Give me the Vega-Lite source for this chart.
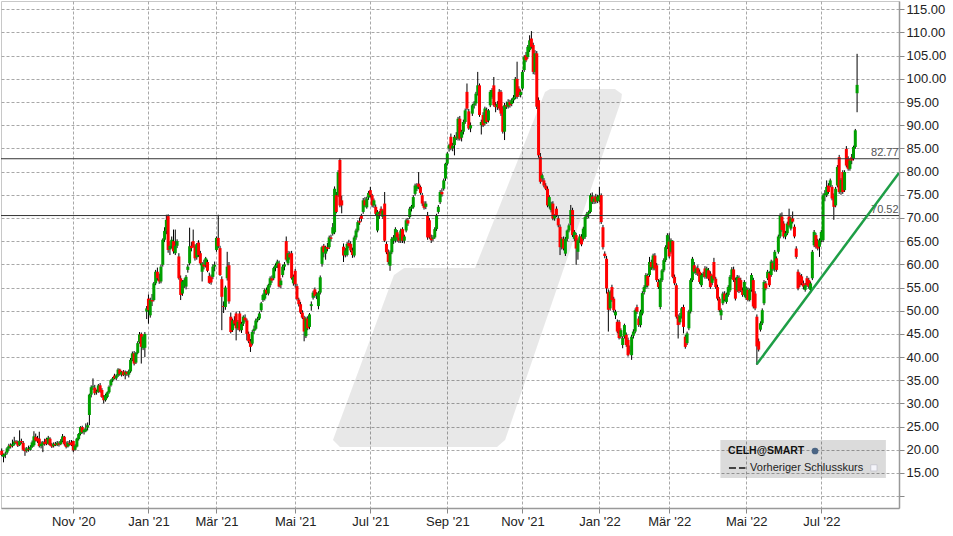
{
"$schema":"https://vega.github.io/schema/vega-lite/v6.json",
"width":898,"height":507,
"autosize":{"type":"none"},
"padding":{"left":1,"top":1,"right":54,"bottom":28},
"background":"white",
"config":{"font":"Liberation Sans","view":{"stroke":"#c8c8c8","strokeWidth":1},
"axis":{"labelFont":"Liberation Sans","labelFontSize":13,"labelColor":"#222","gridColor":"#a8a8a8","gridDash":[3,2],"gridWidth":1,"tickColor":"#888","domainColor":"#999","domainWidth":1.5,"title":null,"labelOverlap":false,"labelFlush":false}},
"resolve":{"axis":{"x":"independent","y":"independent"}},
"datasets":{
"ohlc":[
{"i":-40,"o":19.8,"h":20.3,"l":18.6,"c":18.9},{"i":-39,"o":18.5,"h":19.2,"l":17.3,"c":19.0},{"i":-38,"o":18.9,"h":19.6,"l":18.2,"c":19.2},{"i":-37,"o":19.4,"h":20.6,"l":19.0,"c":20.3},{"i":-36,"o":20.3,"h":21.3,"l":19.8,"c":20.9},{"i":-35,"o":21.0,"h":21.4,"l":20.3,"c":20.7},{"i":-34,"o":20.8,"h":22.2,"l":20.5,"c":21.2},{"i":-33,"o":21.2,"h":22.8,"l":20.9,"c":21.8},{"i":-32,"o":21.8,"h":22.1,"l":21.2,"c":21.5},{"i":-31,"o":21.6,"h":22.0,"l":20.6,"c":20.9},
{"i":-30,"o":21.0,"h":24.2,"l":20.8,"c":21.9},{"i":-29,"o":21.9,"h":22.4,"l":21.3,"c":21.6},{"i":-28,"o":21.5,"h":21.9,"l":19.8,"c":20.0},{"i":-27,"o":20.0,"h":20.5,"l":18.7,"c":19.7},{"i":-26,"o":19.8,"h":20.6,"l":19.4,"c":20.3},{"i":-25,"o":20.2,"h":20.9,"l":19.6,"c":20.0},{"i":-24,"o":20.0,"h":21.0,"l":19.8,"c":20.6},{"i":-23,"o":20.6,"h":22.0,"l":20.4,"c":21.6},{"i":-22,"o":21.0,"h":24.0,"l":20.7,"c":22.9},{"i":-21,"o":22.8,"h":23.5,"l":21.8,"c":22.0},
{"i":-20,"o":22.5,"h":23.0,"l":21.5,"c":21.8},{"i":-19,"o":22.4,"h":23.9,"l":20.5,"c":20.8},{"i":-18,"o":20.8,"h":21.8,"l":20.3,"c":21.3},{"i":-17,"o":21.1,"h":21.9,"l":19.5,"c":21.6},{"i":-16,"o":21.7,"h":22.4,"l":20.9,"c":21.2},{"i":-15,"o":22.3,"h":22.6,"l":21.0,"c":21.3},{"i":-14,"o":21.3,"h":23.0,"l":21.1,"c":22.6},{"i":-13,"o":22.4,"h":22.7,"l":20.8,"c":21.0},{"i":-12,"o":21.1,"h":21.5,"l":20.4,"c":20.7},{"i":-11,"o":20.8,"h":21.6,"l":20.5,"c":21.3},
{"i":-10,"o":21.3,"h":21.7,"l":20.8,"c":21.0},{"i":-9,"o":21.0,"h":21.9,"l":20.8,"c":21.5},{"i":-8,"o":21.4,"h":21.8,"l":20.7,"c":21.1},{"i":-7,"o":21.2,"h":22.3,"l":21.0,"c":21.9},{"i":-6,"o":21.9,"h":23.4,"l":21.6,"c":22.9},{"i":-5,"o":22.8,"h":23.0,"l":20.9,"c":21.2},{"i":-4,"o":21.2,"h":21.8,"l":20.3,"c":20.6},{"i":-3,"o":20.7,"h":21.9,"l":20.5,"c":21.5},{"i":-2,"o":21.5,"h":22.1,"l":20.9,"c":21.2},{"i":-1,"o":21.6,"h":22.1,"l":20.8,"c":21.0},
{"i":0,"o":21.9,"h":22.0,"l":19.5,"c":19.9},{"i":1,"o":20.0,"h":21.2,"l":19.8,"c":20.9},{"i":2,"o":20.7,"h":22.6,"l":20.5,"c":22.4},{"i":3,"o":22.3,"h":23.6,"l":22.0,"c":23.4},{"i":4,"o":23.4,"h":25.1,"l":23.1,"c":24.9},{"i":5,"o":24.9,"h":25.2,"l":23.5,"c":23.8},{"i":6,"o":23.8,"h":24.6,"l":23.3,"c":24.3},{"i":7,"o":24.0,"h":25.7,"l":23.8,"c":24.6},{"i":8,"o":24.8,"h":25.9,"l":24.2,"c":25.3},{"i":9,"o":27.5,"h":32.1,"l":25.3,"c":31.9},
{"i":10,"o":31.9,"h":33.9,"l":31.3,"c":33.5},{"i":11,"o":33.5,"h":35.4,"l":32.9,"c":33.7},{"i":12,"o":33.4,"h":34.0,"l":31.8,"c":32.2},{"i":13,"o":32.4,"h":33.0,"l":31.9,"c":32.6},{"i":14,"o":32.5,"h":34.2,"l":32.3,"c":33.9},{"i":15,"o":33.9,"h":34.4,"l":32.3,"c":32.5},{"i":16,"o":32.9,"h":33.3,"l":31.2,"c":31.4},{"i":17,"o":31.4,"h":31.8,"l":30.0,"c":30.7},{"i":18,"o":30.7,"h":32.1,"l":30.4,"c":31.8},{"i":19,"o":31.4,"h":32.6,"l":31.1,"c":32.4},
{"i":20,"o":32.4,"h":33.9,"l":32.1,"c":33.6},{"i":21,"o":33.9,"h":35.2,"l":33.6,"c":35.0},{"i":22,"o":35.0,"h":35.7,"l":34.6,"c":35.4},{"i":23,"o":36.0,"h":36.4,"l":35.2,"c":35.4},{"i":24,"o":35.4,"h":36.3,"l":35.0,"c":36.0},{"i":25,"o":36.0,"h":37.6,"l":35.7,"c":37.3},{"i":26,"o":37.3,"h":37.5,"l":36.0,"c":36.3},{"i":27,"o":36.2,"h":37.0,"l":35.8,"c":36.8},{"i":28,"o":36.9,"h":37.2,"l":35.9,"c":36.1},{"i":29,"o":36.2,"h":37.1,"l":35.2,"c":36.7},
{"i":30,"o":36.8,"h":37.0,"l":35.9,"c":36.3},{"i":31,"o":36.2,"h":37.3,"l":35.6,"c":36.9},{"i":32,"o":36.9,"h":39.8,"l":36.6,"c":39.4},{"i":33,"o":39.4,"h":41.2,"l":39.1,"c":40.8},{"i":34,"o":40.8,"h":41.3,"l":38.2,"c":38.6},{"i":35,"o":38.8,"h":41.1,"l":38.5,"c":40.9},{"i":36,"o":40.9,"h":43.4,"l":40.6,"c":43.0},{"i":37,"o":43.2,"h":45.4,"l":42.9,"c":44.9},{"i":38,"o":45.0,"h":45.3,"l":38.6,"c":42.2},{"i":39,"o":41.9,"h":44.8,"l":41.5,"c":44.4},
{"i":40,"o":42.0,"h":45.4,"l":40.0,"c":45.0},{"i":41,"o":49.8,"h":51.0,"l":48.2,"c":50.5},{"i":42,"o":52.6,"h":53.5,"l":47.2,"c":50.1},{"i":43,"o":49.0,"h":52.8,"l":48.5,"c":52.3},{"i":44,"o":52.3,"h":53.6,"l":51.0,"c":52.0},{"i":45,"o":52.3,"h":56.2,"l":52.0,"c":55.9},{"i":46,"o":55.9,"h":58.8,"l":55.5,"c":58.4},{"i":47,"o":58.4,"h":59.3,"l":56.5,"c":57.0},{"i":48,"o":57.0,"h":58.0,"l":55.8,"c":56.3},{"i":49,"o":56.3,"h":60.0,"l":55.9,"c":59.5},
{"i":50,"o":59.9,"h":65.6,"l":59.5,"c":65.3},{"i":51,"o":65.3,"h":68.0,"l":64.8,"c":67.2},{"i":52,"o":67.2,"h":70.7,"l":66.5,"c":69.6},{"i":53,"o":70.4,"h":70.8,"l":62.5,"c":63.1},{"i":54,"o":63.2,"h":65.0,"l":62.0,"c":64.0},{"i":55,"o":63.9,"h":66.0,"l":63.4,"c":65.3},{"i":56,"o":65.0,"h":67.5,"l":62.3,"c":62.8},{"i":57,"o":62.4,"h":67.5,"l":62.0,"c":64.0},{"i":58,"o":64.0,"h":65.4,"l":63.5,"c":65.0},{"i":59,"o":61.7,"h":62.4,"l":56.7,"c":57.0},
{"i":60,"o":57.0,"h":57.6,"l":52.3,"c":53.4},{"i":61,"o":53.7,"h":56.6,"l":53.2,"c":56.3},{"i":62,"o":55.6,"h":57.0,"l":54.9,"c":56.6},{"i":63,"o":55.2,"h":57.7,"l":54.6,"c":57.3},{"i":64,"o":58.8,"h":60.0,"l":58.2,"c":59.5},{"i":65,"o":60.2,"h":67.9,"l":59.8,"c":63.9},{"i":66,"o":64.0,"h":64.8,"l":62.8,"c":63.5},{"i":67,"o":65.0,"h":67.5,"l":63.6,"c":63.9},{"i":68,"o":63.9,"h":64.3,"l":60.8,"c":61.3},{"i":69,"o":61.5,"h":64.6,"l":61.0,"c":64.3},
{"i":70,"o":64.7,"h":65.2,"l":61.6,"c":62.0},{"i":71,"o":62.4,"h":62.9,"l":59.8,"c":60.2},{"i":72,"o":58.4,"h":60.5,"l":56.3,"c":60.2},{"i":73,"o":60.0,"h":61.0,"l":58.9,"c":59.5},{"i":74,"o":59.9,"h":61.6,"l":59.3,"c":61.3},{"i":75,"o":60.5,"h":61.0,"l":58.3,"c":58.6},{"i":76,"o":57.5,"h":58.2,"l":55.8,"c":56.0},{"i":77,"o":57.2,"h":57.8,"l":55.6,"c":56.1},{"i":78,"o":57.3,"h":60.0,"l":56.8,"c":59.5},{"i":79,"o":59.5,"h":60.6,"l":58.5,"c":59.9},
{"i":80,"o":63.1,"h":66.0,"l":62.7,"c":65.7},{"i":81,"o":65.7,"h":70.7,"l":63.5,"c":63.9},{"i":82,"o":63.5,"h":64.0,"l":57.5,"c":57.7},{"i":83,"o":56.8,"h":57.4,"l":45.8,"c":53.0},{"i":84,"o":51.0,"h":52.0,"l":49.5,"c":50.8},{"i":85,"o":50.8,"h":55.4,"l":50.2,"c":55.0},{"i":86,"o":57.0,"h":62.7,"l":56.5,"c":59.5},{"i":87,"o":59.8,"h":60.5,"l":51.5,"c":52.0},{"i":88,"o":48.7,"h":49.6,"l":45.1,"c":45.4},{"i":89,"o":45.8,"h":48.3,"l":45.4,"c":47.9},
{"i":90,"o":47.9,"h":48.8,"l":46.8,"c":47.2},{"i":91,"o":49.4,"h":49.8,"l":43.6,"c":46.2},{"i":92,"o":46.2,"h":48.0,"l":45.8,"c":47.6},{"i":93,"o":49.4,"h":49.9,"l":45.5,"c":45.8},{"i":94,"o":45.8,"h":47.6,"l":45.2,"c":47.2},{"i":95,"o":47.2,"h":49.0,"l":46.7,"c":48.7},{"i":96,"o":48.5,"h":49.2,"l":47.6,"c":47.9},{"i":97,"o":47.9,"h":48.3,"l":43.6,"c":45.0},{"i":98,"o":45.0,"h":45.5,"l":43.0,"c":43.4},{"i":99,"o":43.4,"h":43.9,"l":41.1,"c":42.2},
{"i":100,"o":42.9,"h":45.8,"l":42.5,"c":45.4},{"i":101,"o":45.6,"h":46.8,"l":45.0,"c":46.1},{"i":102,"o":46.1,"h":48.3,"l":45.8,"c":47.9},{"i":103,"o":47.9,"h":48.7,"l":47.5,"c":48.3},{"i":104,"o":48.3,"h":49.8,"l":48.0,"c":49.4},{"i":105,"o":50.1,"h":51.9,"l":49.7,"c":51.6},{"i":106,"o":52.3,"h":53.7,"l":51.9,"c":53.4},{"i":107,"o":52.6,"h":54.8,"l":52.2,"c":54.5},{"i":108,"o":54.5,"h":55.0,"l":53.4,"c":53.7},{"i":109,"o":53.7,"h":55.8,"l":53.3,"c":55.5},
{"i":110,"o":55.5,"h":57.4,"l":55.0,"c":57.0},{"i":111,"o":57.0,"h":57.6,"l":56.0,"c":56.5},{"i":112,"o":57.0,"h":59.5,"l":56.6,"c":59.2},{"i":113,"o":59.2,"h":60.2,"l":58.5,"c":59.8},{"i":114,"o":59.8,"h":61.0,"l":59.2,"c":60.6},{"i":115,"o":60.2,"h":60.8,"l":55.0,"c":55.2},{"i":116,"o":55.5,"h":57.0,"l":54.8,"c":56.5},{"i":117,"o":57.7,"h":59.9,"l":57.2,"c":59.5},{"i":118,"o":59.5,"h":60.5,"l":58.7,"c":60.0},{"i":119,"o":65.0,"h":66.0,"l":60.6,"c":61.0},
{"i":120,"o":60.2,"h":62.9,"l":59.8,"c":62.4},{"i":121,"o":62.2,"h":62.8,"l":61.0,"c":61.5},{"i":122,"o":62.4,"h":62.9,"l":56.7,"c":57.0},{"i":123,"o":55.9,"h":57.8,"l":55.4,"c":57.3},{"i":124,"o":58.6,"h":59.0,"l":55.0,"c":55.7},{"i":125,"o":55.3,"h":55.8,"l":52.2,"c":52.5},{"i":126,"o":52.4,"h":52.8,"l":50.9,"c":51.4},{"i":127,"o":51.4,"h":51.9,"l":49.3,"c":49.6},{"i":128,"o":49.6,"h":50.1,"l":48.2,"c":48.5},{"i":129,"o":48.5,"h":48.9,"l":43.4,"c":45.5},
{"i":130,"o":44.5,"h":48.7,"l":44.1,"c":48.3},{"i":131,"o":48.3,"h":48.8,"l":45.8,"c":46.2},{"i":132,"o":46.5,"h":49.5,"l":46.0,"c":49.2},{"i":133,"o":51.0,"h":52.0,"l":50.0,"c":51.4},{"i":134,"o":52.8,"h":54.3,"l":52.4,"c":53.9},{"i":135,"o":54.6,"h":55.0,"l":52.8,"c":53.2},{"i":136,"o":53.2,"h":54.0,"l":52.5,"c":53.5},{"i":137,"o":51.0,"h":54.2,"l":50.3,"c":53.9},{"i":138,"o":53.9,"h":57.6,"l":53.5,"c":57.2},{"i":139,"o":60.1,"h":64.0,"l":59.5,"c":63.7},
{"i":140,"o":64.0,"h":64.4,"l":61.5,"c":62.6},{"i":141,"o":62.3,"h":64.0,"l":61.0,"c":63.7},{"i":142,"o":63.7,"h":64.6,"l":62.8,"c":63.3},{"i":143,"o":63.7,"h":66.2,"l":63.3,"c":65.8},{"i":144,"o":65.8,"h":66.4,"l":64.9,"c":65.5},{"i":145,"o":66.6,"h":68.9,"l":66.2,"c":68.0},{"i":146,"o":66.9,"h":76.8,"l":66.5,"c":76.3},{"i":147,"o":74.9,"h":75.6,"l":71.0,"c":71.3},{"i":148,"o":74.9,"h":80.3,"l":74.5,"c":79.9},{"i":149,"o":82.5,"h":82.9,"l":72.3,"c":72.7},
{"i":150,"o":73.8,"h":74.8,"l":71.0,"c":72.7},{"i":151,"o":63.8,"h":64.5,"l":60.5,"c":61.9},{"i":152,"o":62.0,"h":63.5,"l":61.5,"c":63.0},{"i":153,"o":62.0,"h":64.8,"l":61.7,"c":64.4},{"i":154,"o":64.6,"h":65.3,"l":63.5,"c":63.9},{"i":155,"o":64.4,"h":65.0,"l":62.6,"c":63.0},{"i":156,"o":63.0,"h":63.6,"l":61.4,"c":62.0},{"i":157,"o":61.9,"h":66.2,"l":61.5,"c":65.8},{"i":158,"o":65.8,"h":67.7,"l":65.3,"c":67.3},{"i":159,"o":67.3,"h":69.5,"l":66.9,"c":69.1},
{"i":160,"o":69.3,"h":70.1,"l":68.5,"c":69.0},{"i":161,"o":70.5,"h":70.9,"l":69.2,"c":69.8},{"i":162,"o":71.3,"h":74.3,"l":70.9,"c":73.8},{"i":163,"o":73.8,"h":74.5,"l":72.3,"c":72.7},{"i":164,"o":72.3,"h":74.6,"l":72.0,"c":74.2},{"i":165,"o":74.4,"h":75.8,"l":73.9,"c":75.4},{"i":166,"o":76.0,"h":76.7,"l":74.4,"c":74.9},{"i":167,"o":74.9,"h":75.2,"l":72.3,"c":72.7},{"i":168,"o":72.7,"h":74.2,"l":72.2,"c":73.8},{"i":169,"o":72.4,"h":72.9,"l":70.5,"c":70.9},
{"i":170,"o":67.3,"h":71.7,"l":66.9,"c":71.3},{"i":171,"o":70.8,"h":71.5,"l":69.8,"c":70.4},{"i":172,"o":72.0,"h":72.5,"l":70.5,"c":70.9},{"i":173,"o":70.2,"h":71.9,"l":69.8,"c":71.6},{"i":174,"o":73.1,"h":75.6,"l":64.8,"c":65.1},{"i":175,"o":64.4,"h":64.9,"l":62.2,"c":62.6},{"i":176,"o":62.6,"h":63.2,"l":60.0,"c":60.5},{"i":177,"o":59.7,"h":63.0,"l":58.6,"c":62.6},{"i":178,"o":62.6,"h":65.9,"l":62.2,"c":65.5},{"i":179,"o":65.1,"h":66.3,"l":64.4,"c":65.8},
{"i":180,"o":65.1,"h":68.0,"l":64.7,"c":67.6},{"i":181,"o":66.9,"h":67.4,"l":64.9,"c":65.8},{"i":182,"o":65.8,"h":66.5,"l":64.6,"c":65.1},{"i":183,"o":65.1,"h":67.7,"l":64.6,"c":67.3},{"i":184,"o":67.6,"h":68.0,"l":64.6,"c":65.1},{"i":185,"o":65.1,"h":66.4,"l":64.5,"c":66.0},{"i":186,"o":67.3,"h":69.9,"l":66.9,"c":69.5},{"i":187,"o":69.5,"h":70.0,"l":68.3,"c":68.8},{"i":188,"o":70.2,"h":72.4,"l":69.8,"c":72.0},{"i":189,"o":72.0,"h":72.8,"l":71.4,"c":72.5},
{"i":190,"o":72.3,"h":74.9,"l":72.0,"c":74.5},{"i":191,"o":75.2,"h":77.4,"l":74.8,"c":77.0},{"i":192,"o":76.3,"h":77.5,"l":75.8,"c":77.0},{"i":193,"o":77.4,"h":79.9,"l":76.2,"c":76.7},{"i":194,"o":76.7,"h":77.0,"l":75.0,"c":75.4},{"i":195,"o":74.9,"h":75.4,"l":72.6,"c":73.1},{"i":196,"o":73.1,"h":73.6,"l":71.8,"c":72.2},{"i":197,"o":72.4,"h":73.6,"l":71.9,"c":73.1},{"i":198,"o":70.5,"h":71.3,"l":65.3,"c":65.8},{"i":199,"o":69.5,"h":70.0,"l":65.5,"c":65.8},
{"i":200,"o":65.8,"h":66.4,"l":64.6,"c":65.2},{"i":201,"o":65.5,"h":66.3,"l":65.0,"c":65.8},{"i":202,"o":65.8,"h":68.0,"l":65.5,"c":67.6},{"i":203,"o":67.6,"h":70.9,"l":67.2,"c":70.5},{"i":204,"o":71.3,"h":72.8,"l":70.9,"c":72.4},{"i":205,"o":73.4,"h":76.0,"l":73.0,"c":75.6},{"i":206,"o":75.6,"h":76.4,"l":74.6,"c":75.1},{"i":207,"o":76.3,"h":78.5,"l":75.9,"c":78.1},{"i":208,"o":78.5,"h":81.9,"l":78.0,"c":81.7},{"i":209,"o":81.7,"h":84.2,"l":81.3,"c":83.9},
{"i":210,"o":85.0,"h":86.0,"l":84.3,"c":85.7},{"i":211,"o":87.5,"h":88.2,"l":84.6,"c":85.0},{"i":212,"o":85.0,"h":86.2,"l":84.4,"c":85.6},{"i":213,"o":85.7,"h":87.9,"l":83.5,"c":87.5},{"i":214,"o":87.5,"h":88.5,"l":86.8,"c":87.3},{"i":215,"o":87.1,"h":91.8,"l":86.7,"c":91.4},{"i":216,"o":91.4,"h":92.0,"l":86.7,"c":87.1},{"i":217,"o":87.3,"h":89.0,"l":86.5,"c":88.6},{"i":218,"o":88.6,"h":91.2,"l":88.0,"c":90.7},{"i":219,"o":90.7,"h":93.6,"l":90.3,"c":93.2},
{"i":220,"o":97.2,"h":99.0,"l":93.2,"c":93.6},{"i":221,"o":93.0,"h":93.5,"l":89.0,"c":89.3},{"i":222,"o":89.3,"h":90.6,"l":88.5,"c":90.0},{"i":223,"o":92.5,"h":94.6,"l":92.0,"c":94.3},{"i":224,"o":94.3,"h":95.2,"l":93.6,"c":94.7},{"i":225,"o":94.7,"h":97.2,"l":94.2,"c":96.8},{"i":226,"o":96.8,"h":101.5,"l":96.4,"c":98.6},{"i":227,"o":98.6,"h":99.0,"l":91.8,"c":92.2},{"i":228,"o":90.0,"h":91.2,"l":88.0,"c":90.7},{"i":229,"o":92.2,"h":92.8,"l":89.6,"c":90.0},
{"i":230,"o":90.4,"h":94.0,"l":89.9,"c":93.6},{"i":231,"o":93.2,"h":93.8,"l":90.3,"c":90.7},{"i":232,"o":91.0,"h":93.5,"l":90.6,"c":93.2},{"i":233,"o":94.3,"h":97.6,"l":93.9,"c":97.2},{"i":234,"o":96.1,"h":98.0,"l":95.7,"c":97.6},{"i":235,"o":98.6,"h":100.4,"l":94.0,"c":94.3},{"i":236,"o":94.3,"h":95.0,"l":92.8,"c":93.9},{"i":237,"o":93.9,"h":95.2,"l":93.3,"c":94.6},{"i":238,"o":97.2,"h":97.8,"l":93.2,"c":93.6},{"i":239,"o":97.2,"h":97.6,"l":92.0,"c":92.5},
{"i":240,"o":93.6,"h":94.1,"l":88.2,"c":88.6},{"i":241,"o":88.6,"h":94.8,"l":86.8,"c":94.3},{"i":242,"o":94.3,"h":95.1,"l":93.5,"c":94.0},{"i":243,"o":94.0,"h":95.6,"l":93.6,"c":95.0},{"i":244,"o":95.0,"h":95.5,"l":93.8,"c":94.3},{"i":245,"o":94.6,"h":95.8,"l":94.1,"c":95.4},{"i":246,"o":95.4,"h":96.5,"l":94.8,"c":96.0},{"i":247,"o":96.0,"h":100.4,"l":95.6,"c":100.0},{"i":248,"o":100.0,"h":103.7,"l":95.7,"c":96.1},{"i":249,"o":97.9,"h":98.4,"l":96.1,"c":96.5},
{"i":250,"o":96.5,"h":97.7,"l":96.0,"c":97.2},{"i":251,"o":97.9,"h":101.9,"l":97.5,"c":101.5},{"i":252,"o":101.9,"h":105.1,"l":101.5,"c":104.7},{"i":253,"o":105.1,"h":105.8,"l":103.6,"c":104.0},{"i":254,"o":104.7,"h":107.3,"l":104.3,"c":106.9},{"i":255,"o":106.2,"h":109.4,"l":105.8,"c":108.3},{"i":256,"o":108.7,"h":110.3,"l":106.5,"c":106.9},{"i":257,"o":107.3,"h":107.8,"l":101.0,"c":101.5},{"i":258,"o":101.5,"h":106.2,"l":100.9,"c":105.5},{"i":259,"o":105.5,"h":106.0,"l":93.5,"c":94.0},
{"i":260,"o":95.4,"h":96.0,"l":83.0,"c":83.5},{"i":261,"o":83.2,"h":84.0,"l":77.4,"c":77.8},{"i":262,"o":78.5,"h":79.6,"l":77.8,"c":79.2},{"i":263,"o":78.1,"h":78.6,"l":76.6,"c":77.0},{"i":264,"o":77.0,"h":77.5,"l":76.0,"c":76.3},{"i":265,"o":76.3,"h":76.8,"l":72.3,"c":72.7},{"i":266,"o":72.5,"h":74.9,"l":72.0,"c":74.5},{"i":267,"o":71.7,"h":73.5,"l":71.2,"c":73.1},{"i":268,"o":73.1,"h":73.6,"l":69.5,"c":69.9},{"i":269,"o":69.9,"h":70.8,"l":69.4,"c":70.5},
{"i":270,"o":72.0,"h":72.5,"l":70.2,"c":70.6},{"i":271,"o":69.9,"h":70.4,"l":68.0,"c":68.4},{"i":272,"o":68.1,"h":68.6,"l":62.0,"c":63.7},{"i":273,"o":63.7,"h":65.9,"l":63.2,"c":65.5},{"i":274,"o":65.5,"h":66.0,"l":63.0,"c":63.4},{"i":275,"o":62.3,"h":65.9,"l":61.8,"c":65.5},{"i":276,"o":65.5,"h":67.5,"l":65.0,"c":67.3},{"i":277,"o":67.3,"h":68.8,"l":66.9,"c":68.4},{"i":278,"o":68.8,"h":72.8,"l":68.4,"c":71.7},{"i":279,"o":71.7,"h":72.2,"l":65.9,"c":66.3},
{"i":280,"o":65.5,"h":67.4,"l":65.0,"c":67.0},{"i":281,"o":66.3,"h":66.8,"l":59.9,"c":63.4},{"i":282,"o":62.7,"h":65.6,"l":61.0,"c":65.2},{"i":283,"o":65.2,"h":66.5,"l":64.6,"c":66.0},{"i":284,"o":66.0,"h":66.5,"l":63.9,"c":64.3},{"i":285,"o":65.5,"h":68.1,"l":65.1,"c":67.7},{"i":286,"o":65.9,"h":70.6,"l":65.5,"c":70.2},{"i":287,"o":70.2,"h":71.3,"l":69.8,"c":70.9},{"i":288,"o":70.9,"h":71.6,"l":70.0,"c":71.3},{"i":289,"o":71.3,"h":75.3,"l":71.0,"c":74.9},
{"i":290,"o":74.6,"h":75.5,"l":73.0,"c":73.5},{"i":291,"o":73.5,"h":74.8,"l":73.0,"c":74.2},{"i":292,"o":74.6,"h":75.2,"l":73.1,"c":73.5},{"i":293,"o":73.6,"h":75.0,"l":73.2,"c":74.6},{"i":294,"o":73.8,"h":76.7,"l":73.4,"c":74.9},{"i":295,"o":74.9,"h":75.3,"l":68.7,"c":69.1},{"i":296,"o":68.0,"h":68.5,"l":63.2,"c":63.7},{"i":297,"o":62.3,"h":62.8,"l":61.3,"c":61.8},{"i":298,"o":61.2,"h":61.8,"l":53.7,"c":54.8},{"i":299,"o":54.0,"h":54.6,"l":45.5,"c":50.2},
{"i":300,"o":50.5,"h":54.4,"l":50.0,"c":54.1},{"i":301,"o":55.1,"h":55.6,"l":51.9,"c":52.3},{"i":302,"o":52.6,"h":53.0,"l":49.6,"c":50.1},{"i":303,"o":49.0,"h":50.2,"l":48.2,"c":49.8},{"i":304,"o":47.6,"h":48.1,"l":45.1,"c":45.5},{"i":305,"o":47.6,"h":48.0,"l":43.8,"c":44.1},{"i":306,"o":44.4,"h":46.2,"l":44.0,"c":45.8},{"i":307,"o":42.6,"h":44.5,"l":41.9,"c":44.1},{"i":308,"o":44.4,"h":47.2,"l":44.0,"c":46.9},{"i":309,"o":44.8,"h":45.3,"l":42.2,"c":42.6},
{"i":310,"o":43.7,"h":44.2,"l":40.1,"c":40.4},{"i":311,"o":41.5,"h":42.5,"l":40.7,"c":41.2},{"i":312,"o":40.4,"h":44.8,"l":39.4,"c":44.4},{"i":313,"o":44.6,"h":46.0,"l":44.0,"c":45.5},{"i":314,"o":45.5,"h":50.5,"l":45.1,"c":50.1},{"i":315,"o":50.8,"h":51.3,"l":49.3,"c":49.8},{"i":316,"o":48.3,"h":48.8,"l":46.5,"c":46.9},{"i":317,"o":46.9,"h":50.2,"l":46.4,"c":49.8},{"i":318,"o":49.4,"h":54.2,"l":49.0,"c":53.8},{"i":319,"o":54.0,"h":55.5,"l":53.5,"c":55.1},
{"i":320,"o":55.1,"h":58.1,"l":54.7,"c":57.7},{"i":321,"o":57.5,"h":58.0,"l":55.0,"c":55.4},{"i":322,"o":57.7,"h":61.6,"l":57.3,"c":60.5},{"i":323,"o":60.5,"h":61.0,"l":58.8,"c":59.4},{"i":324,"o":59.1,"h":62.3,"l":58.7,"c":61.9},{"i":325,"o":61.9,"h":62.4,"l":58.7,"c":59.1},{"i":326,"o":59.8,"h":60.3,"l":56.2,"c":56.6},{"i":327,"o":56.2,"h":56.8,"l":54.7,"c":55.1},{"i":328,"o":50.8,"h":57.0,"l":50.3,"c":56.6},{"i":329,"o":56.6,"h":59.0,"l":56.2,"c":58.7},
{"i":330,"o":58.7,"h":61.3,"l":58.3,"c":60.9},{"i":331,"o":60.9,"h":64.1,"l":60.5,"c":63.7},{"i":332,"o":63.7,"h":66.7,"l":63.3,"c":66.3},{"i":333,"o":64.9,"h":66.7,"l":61.3,"c":61.7},{"i":334,"o":62.7,"h":65.6,"l":62.3,"c":65.2},{"i":335,"o":65.0,"h":65.2,"l":57.0,"c":57.3},{"i":336,"o":57.3,"h":57.8,"l":55.5,"c":55.9},{"i":337,"o":55.5,"h":55.9,"l":48.3,"c":48.7},{"i":338,"o":48.7,"h":49.2,"l":44.0,"c":46.9},{"i":339,"o":47.5,"h":49.5,"l":47.0,"c":48.9},
{"i":340,"o":48.7,"h":50.8,"l":48.3,"c":50.5},{"i":341,"o":50.8,"h":51.3,"l":45.1,"c":46.5},{"i":342,"o":44.4,"h":44.8,"l":41.8,"c":42.2},{"i":343,"o":43.0,"h":45.5,"l":42.6,"c":45.1},{"i":344,"o":46.2,"h":50.2,"l":45.8,"c":49.8},{"i":345,"o":49.8,"h":57.0,"l":49.4,"c":56.6},{"i":346,"o":56.6,"h":61.6,"l":56.2,"c":61.2},{"i":347,"o":59.8,"h":60.5,"l":58.0,"c":58.4},{"i":348,"o":58.1,"h":59.5,"l":57.7,"c":59.1},{"i":349,"o":59.2,"h":59.8,"l":57.5,"c":58.0},
{"i":350,"o":58.4,"h":58.9,"l":55.8,"c":56.2},{"i":351,"o":55.5,"h":58.1,"l":55.1,"c":57.7},{"i":352,"o":57.7,"h":58.4,"l":57.2,"c":58.0},{"i":353,"o":59.1,"h":59.6,"l":56.9,"c":57.3},{"i":354,"o":57.3,"h":59.5,"l":56.9,"c":59.1},{"i":355,"o":58.7,"h":59.2,"l":56.5,"c":56.9},{"i":356,"o":58.0,"h":58.5,"l":54.7,"c":55.1},{"i":357,"o":56.0,"h":57.8,"l":55.5,"c":57.5},{"i":358,"o":60.5,"h":61.4,"l":56.5,"c":56.9},{"i":359,"o":56.9,"h":57.3,"l":54.7,"c":55.1},
{"i":360,"o":55.1,"h":55.6,"l":52.2,"c":52.6},{"i":361,"o":52.6,"h":53.0,"l":49.7,"c":50.1},{"i":362,"o":49.0,"h":50.5,"l":48.0,"c":50.1},{"i":363,"o":51.6,"h":54.1,"l":51.2,"c":53.7},{"i":364,"o":53.7,"h":54.2,"l":52.0,"c":52.4},{"i":365,"o":51.9,"h":53.9,"l":51.5,"c":53.5},{"i":366,"o":53.4,"h":55.5,"l":53.0,"c":55.1},{"i":367,"o":54.4,"h":57.7,"l":54.0,"c":57.3},{"i":368,"o":57.3,"h":59.4,"l":56.8,"c":58.9},{"i":369,"o":58.9,"h":59.5,"l":56.2,"c":56.6},
{"i":370,"o":56.6,"h":57.1,"l":52.2,"c":52.6},{"i":371,"o":54.4,"h":57.7,"l":54.0,"c":57.3},{"i":372,"o":57.1,"h":57.6,"l":53.8,"c":54.2},{"i":373,"o":56.6,"h":57.1,"l":54.0,"c":54.4},{"i":374,"o":54.4,"h":55.0,"l":53.0,"c":53.4},{"i":375,"o":53.4,"h":56.6,"l":53.0,"c":56.2},{"i":376,"o":52.7,"h":55.2,"l":52.3,"c":54.8},{"i":377,"o":54.5,"h":55.0,"l":52.0,"c":52.3},{"i":378,"o":52.3,"h":54.8,"l":52.0,"c":54.5},{"i":379,"o":54.5,"h":58.1,"l":54.1,"c":57.7},
{"i":380,"o":56.6,"h":57.1,"l":50.5,"c":50.9},{"i":381,"o":53.7,"h":54.2,"l":50.1,"c":50.5},{"i":382,"o":48.7,"h":49.2,"l":38.3,"c":42.3},{"i":383,"o":43.4,"h":44.0,"l":41.2,"c":41.6},{"i":384,"o":45.9,"h":47.7,"l":45.5,"c":47.3},{"i":385,"o":47.3,"h":50.5,"l":46.9,"c":50.1},{"i":386,"o":51.6,"h":56.6,"l":51.2,"c":56.2},{"i":387,"o":55.9,"h":56.4,"l":54.4,"c":54.8},{"i":388,"o":57.0,"h":58.8,"l":56.6,"c":58.4},{"i":389,"o":58.1,"h":58.5,"l":55.1,"c":55.5},
{"i":390,"o":57.7,"h":61.0,"l":57.3,"c":60.6},{"i":391,"o":60.3,"h":60.8,"l":58.6,"c":59.0},{"i":392,"o":58.8,"h":63.1,"l":58.4,"c":62.7},{"i":393,"o":61.3,"h":61.7,"l":58.4,"c":58.8},{"i":394,"o":62.7,"h":66.4,"l":62.3,"c":66.0},{"i":395,"o":66.0,"h":71.0,"l":65.6,"c":70.6},{"i":396,"o":70.3,"h":71.2,"l":67.0,"c":67.4},{"i":397,"o":68.8,"h":69.3,"l":65.6,"c":66.0},{"i":398,"o":66.0,"h":67.2,"l":65.4,"c":66.7},{"i":399,"o":66.7,"h":69.2,"l":66.3,"c":68.8},
{"i":400,"o":70.3,"h":72.0,"l":68.0,"c":68.4},{"i":401,"o":67.7,"h":70.3,"l":67.3,"c":69.9},{"i":402,"o":69.9,"h":71.4,"l":68.8,"c":69.2},{"i":403,"o":68.1,"h":68.6,"l":65.6,"c":66.0},{"i":404,"o":63.4,"h":63.9,"l":61.2,"c":61.6},{"i":405,"o":58.4,"h":58.9,"l":54.4,"c":54.8},{"i":406,"o":57.7,"h":58.2,"l":55.1,"c":55.5},{"i":407,"o":57.4,"h":57.9,"l":55.5,"c":55.9},{"i":408,"o":55.9,"h":56.5,"l":54.6,"c":55.2},{"i":409,"o":54.5,"h":56.0,"l":54.1,"c":55.5},
{"i":410,"o":57.0,"h":57.5,"l":55.1,"c":55.5},{"i":411,"o":56.6,"h":57.1,"l":54.8,"c":55.2},{"i":412,"o":54.5,"h":56.3,"l":53.8,"c":55.9},{"i":413,"o":57.0,"h":63.1,"l":56.6,"c":62.7},{"i":414,"o":64.1,"h":67.4,"l":63.7,"c":67.0},{"i":415,"o":66.3,"h":66.8,"l":63.4,"c":63.8},{"i":416,"o":65.0,"h":65.5,"l":63.0,"c":63.4},{"i":417,"o":63.8,"h":65.6,"l":61.6,"c":65.2},{"i":418,"o":65.2,"h":67.4,"l":64.8,"c":67.0},{"i":419,"o":65.2,"h":75.3,"l":64.8,"c":74.9},
{"i":420,"o":74.9,"h":76.0,"l":73.6,"c":75.3},{"i":421,"o":74.9,"h":78.1,"l":74.5,"c":76.7},{"i":422,"o":77.0,"h":77.5,"l":75.2,"c":75.6},{"i":423,"o":77.0,"h":78.5,"l":76.6,"c":78.1},{"i":424,"o":76.7,"h":77.1,"l":73.8,"c":74.2},{"i":425,"o":74.9,"h":75.3,"l":69.6,"c":72.4},{"i":426,"o":72.7,"h":76.7,"l":72.3,"c":76.3},{"i":427,"o":77.0,"h":81.4,"l":76.6,"c":81.0},{"i":428,"o":83.1,"h":83.6,"l":75.2,"c":75.6},{"i":429,"o":75.6,"h":78.6,"l":75.0,"c":78.2},
{"i":430,"o":79.9,"h":80.3,"l":75.2,"c":75.6},{"i":431,"o":76.0,"h":80.3,"l":75.6,"c":79.9},{"i":432,"o":84.9,"h":85.5,"l":80.9,"c":81.3},{"i":433,"o":82.8,"h":83.3,"l":80.2,"c":80.6},{"i":434,"o":80.6,"h":82.8,"l":80.2,"c":82.4},{"i":435,"o":83.1,"h":83.8,"l":81.6,"c":82.4},{"i":436,"o":82.8,"h":85.6,"l":82.4,"c":85.3},{"i":437,"o":85.3,"h":89.2,"l":84.9,"c":88.9},{"i":438,"o":96.9,"h":105.4,"l":92.8,"c":98.7}
],
"levels":[{"v":82.77,"t":"82.77"},{"v":70.52,"t":"70.52"}],
"trend":[{"i":381.9,"v":38.44},{"i":461.4,"v":79.68}],
"logo":[{"k":1,"i":263.6,"v":97.17},{"k":2,"i":266.4,"v":97.81},{"k":3,"i":302.7,"v":97.81},{"k":4,"i":306.6,"v":96.73},{"k":5,"i":306.1,"v":95.22},{"k":6,"i":241.3,"v":22.12},{"k":7,"i":236.8,"v":20.61},{"k":8,"i":149.0,"v":20.61},{"k":9,"i":145.1,"v":22.12},{"k":10,"i":179.2,"v":57.7},{"k":11,"i":184.8,"v":59.21},{"k":12,"i":224.5,"v":59.21}]
},
"layer":[
{"data":{"name":"ohlc"},"mark":{"type":"rule","color":"#000000","strokeWidth":1,"opacity":0},
 "encoding":{"x":{"field":"i","type":"quantitative","title":null,"scale":{"domain":[-40.4,461.42],"nice":false,"zero":false,"padding":0},
   "axis":{"orient":"bottom","title":null,"values":[0,42,80,124,166,209,251,294,333,376,418],"grid":true,"tickSize":5,"labelPadding":2,
   "labelExpr":"datum.value==0?\"Nov '20\":datum.value==42?\"Jan '21\":datum.value==80?\"Mär '21\":datum.value==124?\"Mai '21\":datum.value==166?\"Jul '21\":datum.value==209?\"Sep '21\":datum.value==251?\"Nov '21\":datum.value==294?\"Jan '22\":datum.value==333?\"Mär '22\":datum.value==376?\"Mai '22\":\"Jul '22\""}},
 "y":{"field":"l","type":"quantitative","title":null,"scale":{"domain":[7.45,116.79],"nice":false,"zero":false},
   "axis":{"orient":"right","title":null,"values":[10,15,20,25,30,35,40,45,50,55,60,65,70,75,80,85,90,95,100,105,110,115],"grid":true,"tickSize":5,"labelPadding":2,
   "labelExpr":"datum.value<12?'':format(datum.value,'.2f')"}},
 "y2":{"field":"h"}}},
{"data":{"name":"logo"},"mark":{"type":"line","fill":"#000000","fillOpacity":0.09,"strokeWidth":0,"strokeOpacity":0},
 "encoding":{"x":{"field":"i","type":"quantitative","axis":null},
 "y":{"field":"v","type":"quantitative","axis":null},
 "order":{"field":"k","type":"quantitative"}}},
{"data":{"name":"ohlc"},"mark":{"type":"rule","color":"#000000","strokeWidth":1},
 "encoding":{"x":{"field":"i","type":"quantitative","axis":null},
 "y":{"field":"l","type":"quantitative","axis":null},
 "y2":{"field":"h"}}},
{"data":{"name":"ohlc"},"mark":{"type":"bar","size":3},
 "encoding":{"x":{"field":"i","type":"quantitative","axis":null},
 "y":{"field":"o","type":"quantitative","axis":null},
 "y2":{"field":"c"},
 "color":{"condition":{"test":"datum.c>=datum.o","value":"#00a000"},"value":"#ff0000"}}},
{"data":{"name":"levels"},"mark":{"type":"rule","color":"#333333","strokeWidth":1},
 "encoding":{"y":{"field":"v","type":"quantitative","axis":null}}},
{"data":{"name":"levels"},"mark":{"type":"text","align":"right","baseline":"bottom","dy":-1,"fontSize":11,"color":"#555555"},
 "encoding":{"x":{"datum":461.2,"type":"quantitative","axis":null},
 "y":{"field":"v","type":"quantitative","axis":null},
 "text":{"field":"t"}}},
{"data":{"name":"trend"},"mark":{"type":"line","color":"#1e9e46","strokeWidth":2.5,"clip":true},
 "encoding":{"x":{"field":"i","type":"quantitative","axis":null},
 "y":{"field":"v","type":"quantitative","axis":null}}},
{"data":{"values":[{}]},"mark":{"type":"rect","color":"#000000","opacity":0.14},
 "encoding":{"x":{"datum":361.6,"type":"quantitative","axis":null},"x2":{"datum":454.1},
 "y":{"datum":22.11,"type":"quantitative","axis":null},"y2":{"datum":13.92}}},
{"data":{"values":[{}]},"mark":{"type":"text","text":"CELH@SMART","align":"left","baseline":"middle","fontWeight":"bold","fontSize":10.5,"color":"#111111"},
 "encoding":{"x":{"datum":365.9,"type":"quantitative","axis":null},
 "y":{"datum":19.74,"type":"quantitative","axis":null}}},
{"data":{"values":[{}]},"mark":{"type":"text","text":"Vorheriger Schlusskurs","align":"left","baseline":"middle","fontSize":11,"color":"#222222"},
 "encoding":{"x":{"datum":378.2,"type":"quantitative","axis":null},
 "y":{"datum":16.08,"type":"quantitative","axis":null}}},
{"data":{"values":[{}]},"mark":{"type":"rule","color":"#444444","strokeWidth":2,"strokeDash":[7,3]},
 "encoding":{"x":{"datum":366.4,"type":"quantitative","axis":null},"x2":{"datum":375.6},
 "y":{"datum":16.08,"type":"quantitative","axis":null}}},
{"data":{"values":[{}]},"mark":{"type":"point","shape":"circle","filled":true,"size":45,"color":"#4b6584","opacity":1},
 "encoding":{"x":{"datum":414.5,"type":"quantitative","axis":null},
 "y":{"datum":19.74,"type":"quantitative","axis":null}}},
{"data":{"values":[{}]},"mark":{"type":"point","shape":"square","filled":true,"size":40,"color":"#f4f4fa","stroke":"#c8c8d0","strokeWidth":1,"opacity":1},
 "encoding":{"x":{"datum":447.4,"type":"quantitative","axis":null},
 "y":{"datum":16.1,"type":"quantitative","axis":null}}}
]
}
